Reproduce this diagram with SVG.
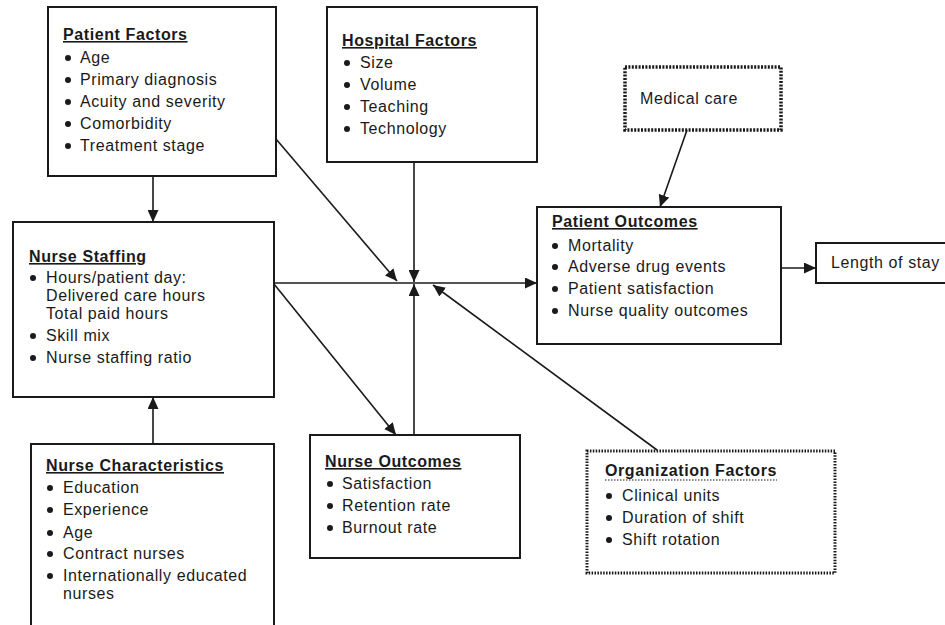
<svg xmlns="http://www.w3.org/2000/svg" width="945" height="625" viewBox="0 0 945 625">
  <style>
    text { font-family: "Liberation Sans", Arial, sans-serif; font-size: 16px; letter-spacing: 0.6px; fill: #1a1a1a; }
    .title { font-weight: bold; text-decoration: underline; }
    .otitle { font-weight: bold; }
    .box { fill: #ffffff; stroke: #1a1a1a; stroke-width: 2; }
    .dot1 { fill: #ffffff; stroke: #1a1a1a; stroke-width: 3.5; stroke-dasharray: 2 1.4; }
    .dot2 { fill: #ffffff; stroke: #1a1a1a; stroke-width: 3; stroke-dasharray: 1.5 1.4; }
    .bul { fill: #1a1a1a; }
    .conn line { stroke: #1a1a1a; stroke-width: 1.6; fill: none; }
  </style>
  <defs>
    <marker id="arr" markerUnits="userSpaceOnUse" markerWidth="13" markerHeight="11" refX="12" refY="5.5" orient="auto">
      <path d="M0,0 L12,5.5 L0,11 Z" fill="#1a1a1a"/>
    </marker>
  </defs>
  <rect width="945" height="625" fill="#ffffff"/>

  <!-- connectors -->
  <g id="connectors" class="conn">
    <line x1="153" y1="176" x2="153" y2="222" marker-end="url(#arr)"/>
    <line x1="153" y1="444" x2="153" y2="397" marker-end="url(#arr)"/>
    <line x1="276" y1="139" x2="397" y2="281" marker-end="url(#arr)"/>
    <line x1="414" y1="162" x2="414" y2="282" marker-end="url(#arr)"/>
    <line x1="414" y1="435" x2="414" y2="284" marker-end="url(#arr)"/>
    <line x1="657" y1="450" x2="433" y2="285" marker-end="url(#arr)"/>
    <line x1="274" y1="283" x2="537" y2="283" marker-end="url(#arr)"/>
    <line x1="274" y1="284" x2="396" y2="435" marker-end="url(#arr)"/>
    <line x1="687" y1="130" x2="660" y2="207" marker-end="url(#arr)"/>
    <line x1="781" y1="268" x2="816" y2="268" marker-end="url(#arr)"/>
  </g>

  <!-- Patient Factors -->
  <g id="patient-factors">
    <rect class="box" x="48" y="7" width="228" height="169"/>
    <text class="title" x="63" y="40">Patient Factors</text>
    <circle class="bul" cx="68" cy="58" r="3"/><text x="80" y="63">Age</text>
    <circle class="bul" cx="68" cy="80" r="3"/><text x="80" y="85">Primary diagnosis</text>
    <circle class="bul" cx="68" cy="102" r="3"/><text x="80" y="107">Acuity and severity</text>
    <circle class="bul" cx="68" cy="124" r="3"/><text x="80" y="129">Comorbidity</text>
    <circle class="bul" cx="68" cy="146" r="3"/><text x="80" y="151">Treatment stage</text>
  </g>

  <!-- Hospital Factors -->
  <g id="hospital-factors">
    <rect class="box" x="327" y="7" width="210" height="155"/>
    <text class="title" x="342" y="46">Hospital Factors</text>
    <circle class="bul" cx="347" cy="63" r="3"/><text x="360" y="68">Size</text>
    <circle class="bul" cx="347" cy="85" r="3"/><text x="360" y="90">Volume</text>
    <circle class="bul" cx="347" cy="107" r="3"/><text x="360" y="112">Teaching</text>
    <circle class="bul" cx="347" cy="129" r="3"/><text x="360" y="134">Technology</text>
  </g>

  <!-- Medical care -->
  <g id="medical-care">
    <rect class="dot1" x="625" y="67" width="156" height="63"/>
    <text x="640" y="104">Medical care</text>
  </g>

  <!-- Nurse Staffing -->
  <g id="nurse-staffing">
    <rect class="box" x="13" y="222" width="261" height="175"/>
    <text class="title" x="29" y="262">Nurse Staffing</text>
    <circle class="bul" cx="33" cy="278" r="3"/><text x="46" y="283">Hours/patient day:</text>
    <text x="46" y="301">Delivered care hours</text>
    <text x="46" y="319">Total paid hours</text>
    <circle class="bul" cx="33" cy="336" r="3"/><text x="46" y="341">Skill mix</text>
    <circle class="bul" cx="33" cy="358" r="3"/><text x="46" y="363">Nurse staffing ratio</text>
  </g>

  <!-- Patient Outcomes -->
  <g id="patient-outcomes">
    <rect class="box" x="537" y="207" width="244" height="137"/>
    <text class="title" x="552" y="227">Patient Outcomes</text>
    <circle class="bul" cx="555" cy="246" r="3"/><text x="568" y="251">Mortality</text>
    <circle class="bul" cx="555" cy="267" r="3"/><text x="568" y="272">Adverse drug events</text>
    <circle class="bul" cx="555" cy="289" r="3"/><text x="568" y="294">Patient satisfaction</text>
    <circle class="bul" cx="555" cy="311" r="3"/><text x="568" y="316">Nurse quality outcomes</text>
  </g>

  <!-- Length of stay -->
  <g id="length-of-stay">
    <rect class="box" x="816" y="243" width="140" height="40"/>
    <text x="831" y="268">Length of stay</text>
  </g>

  <!-- Nurse Characteristics -->
  <g id="nurse-characteristics">
    <rect class="box" x="31" y="444" width="243" height="200"/>
    <text class="title" x="46" y="471">Nurse Characteristics</text>
    <circle class="bul" cx="50" cy="488" r="3"/><text x="63" y="493">Education</text>
    <circle class="bul" cx="50" cy="510" r="3"/><text x="63" y="515">Experience</text>
    <circle class="bul" cx="50" cy="533" r="3"/><text x="63" y="538">Age</text>
    <circle class="bul" cx="50" cy="554" r="3"/><text x="63" y="559">Contract nurses</text>
    <circle class="bul" cx="50" cy="576" r="3"/><text x="63" y="581">Internationally educated</text>
    <text x="63" y="599">nurses</text>
  </g>

  <!-- Nurse Outcomes -->
  <g id="nurse-outcomes">
    <rect class="box" x="310" y="435" width="210" height="123"/>
    <text class="title" x="325" y="467">Nurse Outcomes</text>
    <circle class="bul" cx="330" cy="484" r="3"/><text x="342" y="489">Satisfaction</text>
    <circle class="bul" cx="330" cy="506" r="3"/><text x="342" y="511">Retention rate</text>
    <circle class="bul" cx="330" cy="528" r="3"/><text x="342" y="533">Burnout rate</text>
  </g>

  <!-- Organization Factors -->
  <g id="organization-factors">
    <rect class="dot2" x="587" y="451" width="248" height="122"/>
    <text class="otitle" x="605" y="476">Organization Factors</text>
    <line x1="605" y1="480" x2="777" y2="480" stroke="#1a1a1a" stroke-width="1.2" stroke-dasharray="1.5 1.5"/>
    <circle class="bul" cx="609" cy="496" r="3"/><text x="622" y="501">Clinical units</text>
    <circle class="bul" cx="609" cy="518" r="3"/><text x="622" y="523">Duration of shift</text>
    <circle class="bul" cx="609" cy="540" r="3"/><text x="622" y="545">Shift rotation</text>
  </g>
</svg>
